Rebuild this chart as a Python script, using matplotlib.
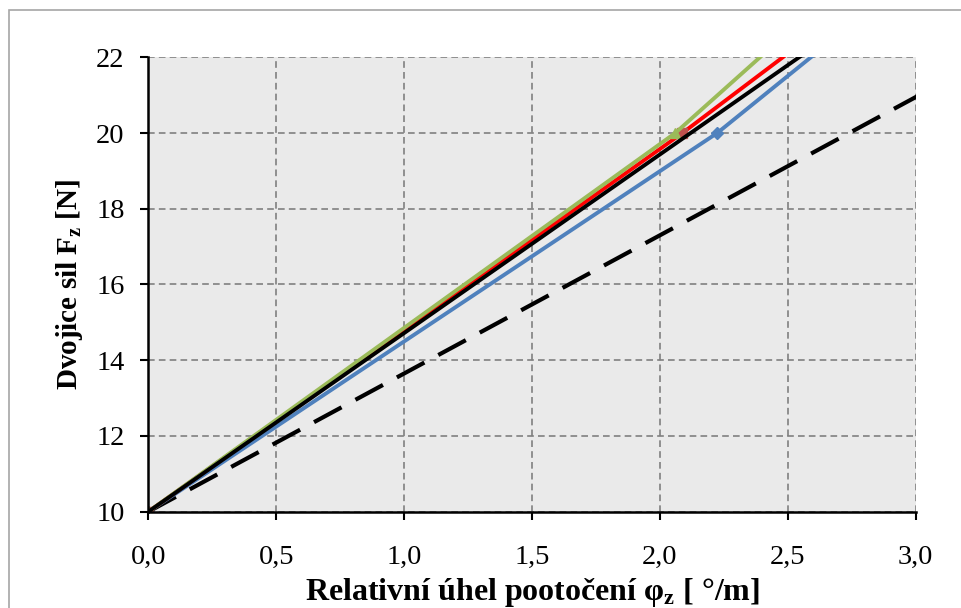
import matplotlib
matplotlib.use("Agg")
import matplotlib.pyplot as plt
from matplotlib.patches import Rectangle
from matplotlib.ticker import FuncFormatter

plt.rcParams['font.family'] = ['Liberation Serif', 'DejaVu Serif']
plt.rcParams['mathtext.fontset'] = 'custom'
plt.rcParams['mathtext.rm'] = 'Liberation Serif'
plt.rcParams['mathtext.bf'] = 'Liberation Serif:bold'
plt.rcParams['mathtext.it'] = 'Liberation Serif:italic'

# Data: (angle [deg/m], force [N]) per series
blue_x = [0.0, 2.224, 4.055]
blue_y = [10, 20, 30]
red_x = [0.0, 2.088, 4.05]
red_y = [10, 20, 30]
green_x = [0.0, 2.06, 3.716]
green_y = [10, 20, 30]
black_x = [0.0, 2.12, 4.24]
black_y = [10, 20, 30]
dashed_x = [0.0, 2.74, 5.48]
dashed_y = [10, 20, 30]

xticks = [0.0, 0.5, 1.0, 1.5, 2.0, 2.5, 3.0]
yticks = [10, 12, 14, 16, 18, 20, 22]

fig = plt.figure(figsize=(9.62, 6.08), dpi=100)
ax = fig.add_axes([0.1542, 0.1584, 0.9519 - 0.1542, 0.9058 - 0.1584])

# outer chart frame
fig.patches.append(Rectangle((9 / 962, -0.1), 1.2, 0.9836 + 0.1,
                             transform=fig.transFigure, fill=False,
                             edgecolor='#A6A6A6', linewidth=1.2))

ax.set_facecolor('#EAEAEA')

ax.plot(dashed_x, dashed_y, color='black', lw=3.0, linestyle=(0, (7.5, 3.8)),
        dash_capstyle='butt', zorder=3)
ax.plot(blue_x, blue_y, color='#4F81BD', lw=2.8, marker='D', ms=6,
        mfc='#4F81BD', mec='#4F81BD', zorder=4)
ax.plot(red_x, red_y, color='#FF0000', lw=2.8, marker='s', ms=7,
        mfc='#C0504D', mec='#C0504D', zorder=5)
ax.plot(green_x, green_y, color='#9BBB59', lw=2.8, marker='^', ms=7,
        mfc='#9BBB59', mec='#9BBB59', zorder=6)
ax.plot(black_x, black_y, color='black', lw=2.8, zorder=7)

ax.set_xlim(0, 3.0)
ax.set_ylim(10, 22)
ax.set_xticks(xticks)
ax.set_yticks(yticks)
ax.xaxis.set_major_formatter(FuncFormatter(lambda v, p: f"{v:.1f}".replace('.', ',')))
ax.yaxis.set_major_formatter(FuncFormatter(lambda v, p: f"{int(round(v))}"))

ax.grid(True, color='#808080', linestyle=(0, (4, 2.5)), linewidth=1.2, zorder=1)
ax.set_axisbelow(True)

for s in ['top', 'right']:
    ax.spines[s].set_visible(False)
for s in ['left', 'bottom']:
    ax.spines[s].set_linewidth(1.8)
    ax.spines[s].set_color('black')
    ax.spines[s].set_zorder(8)

ax.tick_params(axis='both', direction='out', length=6, width=1.5, labelsize=20.5,
               colors='black')
ax.tick_params(axis='x', pad=18)
ax.tick_params(axis='y', pad=11)

ax.set_xlabel(r"Relativní úhel pootočení φ$_\mathbf{z}$ [ °/m]", fontsize=23,
              fontweight='bold', labelpad=4)
ax.set_ylabel(r"Dvojice sil F$_\mathbf{z}$ [N]", fontsize=21, fontweight='bold',
              labelpad=8)

fig.savefig("out.png", dpi=100)
